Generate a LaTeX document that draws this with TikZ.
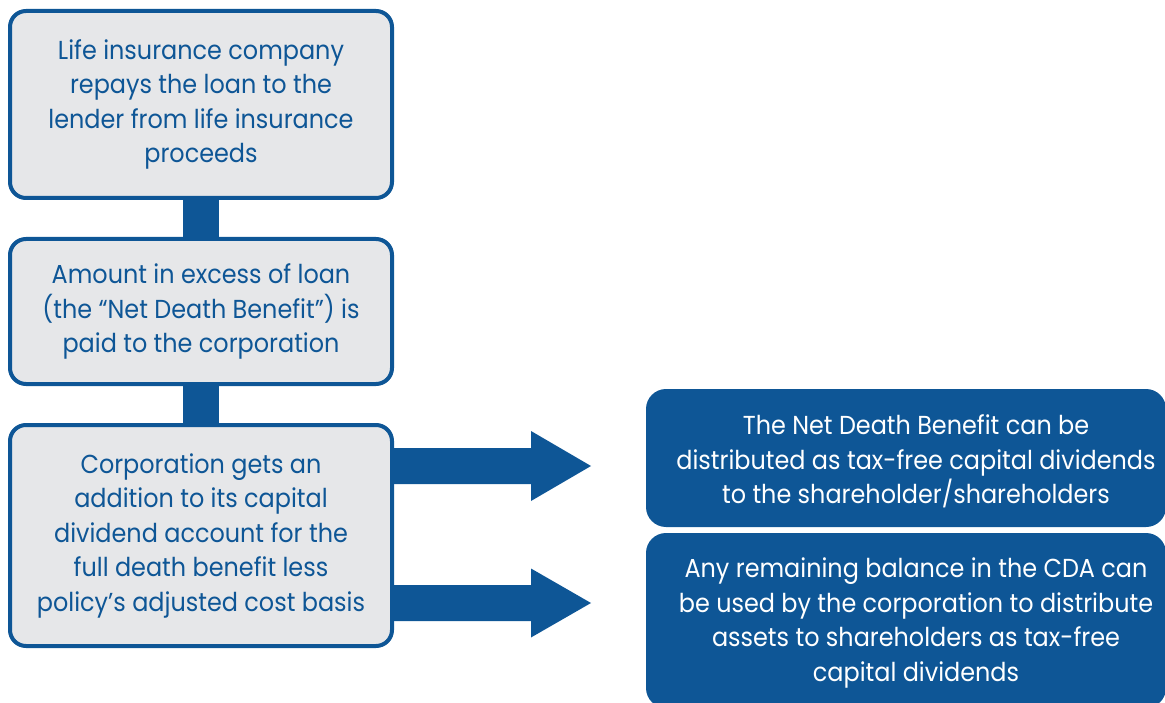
\documentclass[tikz,border=0pt]{standalone}
\usepackage{fontspec}
\setmainfont{Poppins}[FakeStretch=0.92]
\usetikzlibrary{calc}
\definecolor{dkblue}{RGB}{14,86,150}
\definecolor{ltgray}{RGB}{230,231,233}
\begin{document}
\begin{tikzpicture}[x=1pt,y=-1pt,
  lbox/.style={draw=dkblue, fill=ltgray, line width=4pt, rounded corners=16pt, text=dkblue, align=center,
    minimum width=382pt, inner sep=0pt, outer sep=0pt, font=\fontsize{26}{34.5}\selectfont},
  rbox/.style={fill=dkblue, rounded corners=20pt, minimum width=520pt, inner sep=0pt, outer sep=0pt},
  rtext/.style={text=white, align=center, inner sep=0pt, font=\fontsize{26}{34.5}\selectfont},
  conn/.style={draw=dkblue, line width=36pt},
  arr/.style={fill=dkblue}]
\useasboundingbox (0,0) rectangle (1165,703);
\begin{scope}
\clip (0,0) rectangle (1165,703);
\node[lbox, minimum height=187pt] (b1) at (201,104.5) {Life insurance company\\repays the loan to the\\lender from life insurance\\proceeds};
\node[lbox, minimum height=145pt] (b2) at (201,311.5) {Amount in excess of loan\\(the “Net Death Benefit”) is\\paid to the corporation};
\node[lbox, minimum height=221pt] (b3) at (201,535.5) {Corporation gets an\\addition to its capital\\dividend account for the\\full death benefit less\\policy’s adjusted cost basis};
\draw[conn] (b1) -- (b2);
\draw[conn] (b2) -- (b3);
\node[rbox, minimum height=138pt] (ra) at (906,458) {};
\node[rtext] (ta) at (916,461.5) {The Net Death Benefit can be\\distributed as tax-free capital dividends\\to the shareholder/shareholders};
\node[rbox, minimum height=175pt] (rb) at (906,620.5) {};
\node[rtext] (tb) at (916,623) {Any remaining balance in the CDA can\\be used by the corporation to distribute\\assets to shareholders as tax-free\\capital dividends};
\coordinate (h1) at (531,466);
\coordinate (t1) at (591,466);
\coordinate (h2) at (531,603);
\coordinate (t2) at (591,603);
\fill[arr] ($(b3.east|-t1)+(0,-18)$) -- ($(h1)+(0,-18)$) -- ($(h1)+(0,-35)$) -- (t1) -- ($(h1)+(0,35)$) -- ($(h1)+(0,18)$) -- ($(b3.east|-t1)+(0,18)$) -- cycle;
\fill[arr] ($(b3.east|-t2)+(0,-18)$) -- ($(h2)+(0,-18)$) -- ($(h2)+(0,-34.5)$) -- (t2) -- ($(h2)+(0,34.5)$) -- ($(h2)+(0,18)$) -- ($(b3.east|-t2)+(0,18)$) -- cycle;
\end{scope}
\end{tikzpicture}
\end{document}
